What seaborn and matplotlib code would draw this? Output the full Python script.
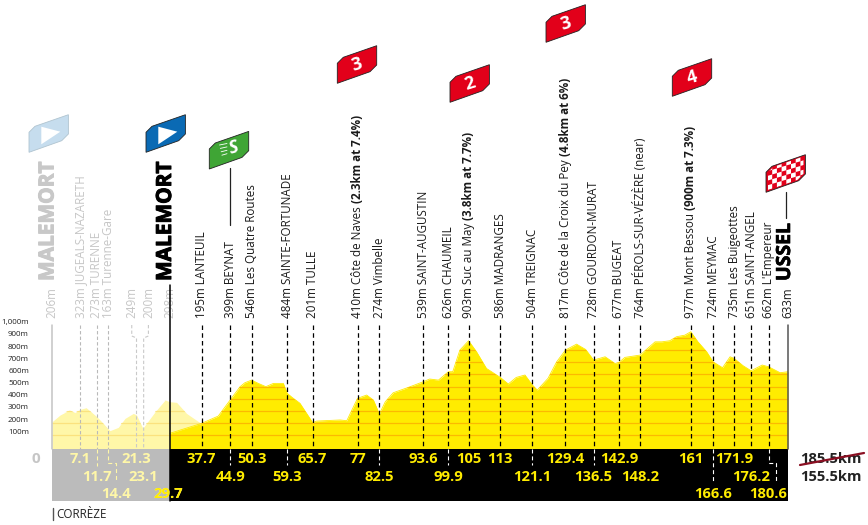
import matplotlib
matplotlib.use('Agg')
import matplotlib.pyplot as plt
import matplotlib.patheffects as pe
from matplotlib.patches import Polygon, Rectangle
from matplotlib.transforms import blended_transform_factory
import numpy as np
import pandas as pd
import seaborn as sns

# profile (km, metres on the drawn scale)
main_km = [29.7, 37.7, 41.9, 44.9, 47.4, 48.6, 50.3, 52, 53.9, 55.8, 58.3, 59.3, 60.5, 62.5, 65.7, 66.7, 72.6, 74.3,
           77, 79.3, 81, 82.5, 84, 86, 89.8, 93.6, 95.2, 97.4, 99.9, 101, 102.8, 105, 107, 109.5, 113, 115, 117, 119.2,
           121.1, 122.3, 125, 127.2, 129.4, 132.2, 134.5, 136.5, 139.4, 141.9, 142.9, 144.4, 148.2, 152, 153.7, 155.7,
           157.4, 159.5, 161, 162.8, 165, 166.6, 169, 170.9, 171.9, 174.2, 176.2, 179, 180.6, 183.5, 185.5]
main_alt = [115, 197, 257, 389, 499, 531, 553, 526, 499, 526, 526, 444, 411, 362, 203, 216, 225, 219,
            403, 430, 389, 274, 375, 449, 493, 540, 562, 553, 622, 622, 800, 877, 786, 649, 575, 521, 575, 595,
            512, 471, 567, 704, 800, 849, 805, 718, 745, 690, 699, 740, 759, 868, 868, 877,
            910, 923, 951, 868, 786, 704, 655, 745, 732, 671, 630, 677, 663, 614, 622]
pale_km = [0, 2, 4.4, 5.8, 7.1, 8.6, 11.3, 12.9, 14.6, 16.7, 18.4, 20.5, 21.3, 22.9, 23.3, 26, 28.5, 29.7, 31.4, 33.9, 37.3]
pale_alt = [210, 265, 307, 285, 312, 326, 252, 197, 137, 164, 238, 279, 266, 156, 175, 293, 389, 375, 370, 279, 203]

grid_alt = [100, 200, 300, 400, 500, 600, 700, 800, 900]
ytick_alt = [100, 200, 300, 400, 500, 600, 700, 800, 900, 1000]
ytick_lab = ['100m', '200m', '300m', '400m', '500m', '600m', '700m', '800m', '900m', '1,000m']

# waypoints of the race proper
wp_km = [37.7, 44.9, 50.3, 59.3, 65.7, 77, 82.5, 93.6, 99.9, 105, 113, 121.1, 129.4, 136.5, 142.9, 148.2, 161, 166.6,
         171.9, 176.2, 180.6]
wp_lab = ['37.7', '44.9', '50.3', '59.3', '65.7', '77', '82.5', '93.6', '99.9', '105', '113', '121.1', '129.4', '136.5',
          '142.9', '148.2', '161', '166.6', '171.9', '176.2', '180.6']
wp_row = [0, 1, 0, 1, 0, 0, 1, 0, 1, 0, 0, 1, 0, 1, 0, 1, 0, 2, 0, 1, 2]
wp_name = ['195m LANTEUIL', '399m BEYNAT', '546m Les Quatre Routes', '484m SAINTE-FORTUNADE', '201m TULLE',
           '410m Côte de Naves', '274m Vimbelle', '539m SAINT-AUGUSTIN', '626m CHAUMEIL', '903m Suc au May',
           '586m MADRANGES', '504m TREIGNAC', '817m Côte de la Croix du Pey', '728m GOURDON-MURAT', '677m BUGEAT',
           '764m PÉROLS-SUR-VÉZÈRE (near)', '977m Mont Bessou', '724m MEYMAC', '735m Les Buigeottes',
           '651m SAINT-ANGEL', "662m L'Empereur"]
climbs = {'410m Côte de Naves': '(2.3km at 7.4%)', '903m Suc au May': '(3.8km at 7.7%)',
          '817m Côte de la Croix du Pey': '(4.8km at 6%)', '977m Mont Bessou': '(900m at 7.3%)'}

# neutralised section, greyed out
old_km = [7.1, 11.3, 14.2, 21.3, 23.1]
old_lab = ['7.1', '11.7', '14.4', '21.3', '23.1']
old_row = [0, 1, 2, 0, 1]
old_name = ['323m JUGEALS-NAZARETH', '273m TURENNE', '163m Turenne-Gare', '249m', '200m']

YEL = '#ffec00'
PALE = '#fff7a8'
ORANGE = '#fcb900'
PALE_OR = '#fbe27e'
GREY_TXT = '#c6c6c6'
BAND_GREY = '#bbbbbb'
row_y = [459, 477, 494]

sns.set_theme(style='white')
plt.rcParams['font.family'] = ['Open Sans', 'DejaVu Sans']

fig = plt.figure(figsize=(8.68, 5.25), dpi=100, facecolor='white')
ax = fig.add_axes([52 / 868, (525 - 447.3) / 525, 736 / 868, 121.5 / 525])
ax.set_xlim(0, 185.5)
ax.set_ylim(0, 1000)
ax.set_axis_off()

deco = fig.add_axes([0, 0, 1, 1])
deco.set_xlim(0, 868)
deco.set_ylim(525, 0)
deco.set_axis_off()
deco.patch.set_alpha(0)
deco.autoscale(False)
# x in km, y in pixels of the picture
trans = blended_transform_factory(ax.transData, deco.transData)

# elevation profile
df_main = pd.DataFrame({'km': main_km, 'alt': main_alt})
df_pale = pd.DataFrame({'km': pale_km, 'alt': pale_alt})
pale_poly = ax.fill_between(df_pale['km'], -15, df_pale['alt'], color=PALE, lw=0, clip_on=False, zorder=1)
pale_grid = ax.hlines(grid_alt, 0, 40, color=PALE_OR, lw=0.9, zorder=1.5)
pale_grid.set_clip_path(pale_poly.get_paths()[0], transform=ax.transData)
main_poly = ax.fill_between(df_main['km'], -15, df_main['alt'], color=YEL, lw=0, clip_on=False, zorder=2)
sns.lineplot(data=df_main, x='km', y='alt', ax=ax, color=YEL, linewidth=0.6, estimator=None, zorder=2)
main_grid = ax.hlines(grid_alt, 29.7, 185.5, color=ORANGE, lw=0.9, zorder=3)
main_grid.set_clip_path(main_poly.get_paths()[0], transform=ax.transData)
ax.set_xlim(0, 185.5)
ax.set_ylim(0, 1000)

for alt, lab in zip(ytick_alt, ytick_lab):
    deco.text(29, 447.3 - alt * 0.1215 - 3, lab, ha='right', va='center', fontsize=5.8, color='#222222')

# km band under the profile
deco.add_patch(Rectangle((52, 449), 117.5, 52, fc=BAND_GREY, ec='none', zorder=1))
deco.add_patch(Rectangle((169.5, 449), 618.5, 52, fc='black', ec='none', zorder=1))
deco.plot([52, 52], [325, 449], color='#c4c4c4', lw=1.1)
deco.plot([788, 788], [325, 449], color='#555555', lw=1.1)
deco.plot([169.8, 169.8], [285, 501], color='black', lw=1.1, zorder=4)
deco.text(36, 459, '0', ha='center', va='center', fontsize=11, fontweight='bold', color=GREY_TXT)

dash = (0, (3.6, 2.6))

# race waypoints
for km, lab, row, name in zip(wp_km, wp_lab, wp_row, wp_name):
    deco.plot([km, km], [325, 449], color='black', lw=0.9, ls=dash, transform=trans, zorder=3)
    t = deco.text(km, 318, name, rotation=90, ha='center', va='bottom', fontsize=8.4, color='#1a1a1a', transform=trans)
    if name in climbs:
        deco.annotate(' ' + climbs[name], xy=(0.5, 1), xycoords=t, rotation=90, ha='center', va='bottom',
                      fontsize=8.4, fontweight='bold', color='#1a1a1a')
    if lab == '180.6':
        xjog = km + 2
        deco.plot([km, km, xjog, xjog], [449, 463, 463, 482], color='white', lw=0.8, ls=dash, transform=trans, zorder=3)
    elif row > 0 and lab not in ('148.2', '176.2'):
        deco.plot([km, km], [449, 449 + 17 * row - 1], color='white', lw=0.8, ls=dash, transform=trans, zorder=3)
    deco.text(km, row_y[row], lab, ha='center', va='center', fontsize=10.6, fontweight='bold', color=YEL,
              transform=trans, zorder=5)

# cancelled part of the route
for km, lab, row, name in zip(old_km, old_lab, old_row, old_name):
    xt = km
    if lab == '249':
        xt = km
    label_x = {'21.3': km - 1.2, '23.1': km + 1.2}.get(lab, km)
    if lab in ('21.3', '23.1'):
        deco.plot([label_x, label_x, km, km], [325, 336, 338, 449], color='#c9c9c9', lw=0.8, ls=(0, (3, 2)),
                  transform=trans, zorder=3)
    else:
        deco.plot([km, km], [325, 449], color='#b9b9b9', lw=0.8, ls=(0, (3, 2)), transform=trans, zorder=3)
    deco.text(label_x, 318, name, rotation=90, ha='center', va='bottom', fontsize=8.4, color=GREY_TXT, transform=trans)
    txt_x = km
    if lab == '14.4':
        txt_x = km + 2
        deco.plot([km, km, txt_x, txt_x], [449, 463, 463, 482], color=PALE, lw=0.8, ls=dash, transform=trans, zorder=3)
    elif lab == '11.7':
        deco.plot([km, km], [449, 466], color=PALE, lw=0.8, ls=dash, transform=trans, zorder=3)
    deco.text(txt_x, row_y[row], lab, ha='center', va='center', fontsize=10.6, fontweight='bold', color=PALE,
              transform=trans, zorder=5)

deco.text(0, 318, '206m', rotation=90, ha='center', va='bottom', fontsize=8.4, color=GREY_TXT, transform=trans)
deco.text(29.7, 318, '298m', rotation=90, ha='center', va='bottom', fontsize=8.4, color=GREY_TXT, transform=trans)
deco.text(185.5, 318, '633m', rotation=90, ha='center', va='bottom', fontsize=8.4, color='#1a1a1a', transform=trans)

# 29.7 sits across the grey and black parts of the band
for col, clip in ((PALE, (52, 449, 117.5, 52)), (YEL, (169.5, 449, 100, 52))):
    t = deco.text(29.2, row_y[2], '29.7', ha='center', va='center', fontsize=10.6, fontweight='bold', color=col,
                  transform=trans, zorder=5)
    t.set_clip_path(Rectangle(clip[:2], clip[2], clip[3], transform=deco.transData))

# start and finish names
thick = [pe.withStroke(linewidth=0.7)]
deco.text(48, 281, 'MALEMORT', rotation=90, ha='center', va='bottom', fontsize=15, fontweight='bold', color='#c8c8c8',
          path_effects=[pe.withStroke(linewidth=0.7, foreground='#c8c8c8')])
deco.text(165.5, 281, 'MALEMORT', rotation=90, ha='center', va='bottom', fontsize=15, fontweight='bold', color='black',
          path_effects=[pe.withStroke(linewidth=0.7, foreground='black')])
deco.text(785, 281, 'USSEL', rotation=90, ha='center', va='bottom', fontsize=14, fontweight='bold', color='black',
          path_effects=[pe.withStroke(linewidth=0.5, foreground='black')])
deco.plot([786, 786], [192, 218], color='#222222', lw=0.9)
deco.plot([230, 230], [168, 225], color='#222222', lw=0.9)

# flags
shape = np.array([(0, 0), (0, -20), (6, -26), (39.4, -37.6), (39.4, -18.3), (32.7, -11.6)])


def flag(x, y, fc, ec='#222222', label=None):
    p = Polygon(shape + (x, y), closed=True, fc=fc, ec=ec, lw=0.6, zorder=6)
    deco.add_patch(p)
    if label:
        deco.text(x + 19.6, y - 18.3, label, rotation=17, ha='center', va='center', fontsize=13, fontweight='bold',
                  color='white', zorder=7)
    return p


flag(337.3, 83.3, '#e2001a', label='3')
flag(450, 102.3, '#e2001a', label='2')
flag(546, 42.3, '#e2001a', label='3')
flag(672.3, 96.3, '#e2001a', label='4')

tri = np.array([(12.3, -8), (12.3, -25.6), (31.3, -20.6)])
flag(29, 152.3, '#c6ddee', ec='#b0c4d0')
deco.add_patch(Polygon(tri + (29, 152.3), fc='white', ec='none', zorder=7))
flag(146, 152.3, '#0a6ab4')
deco.add_patch(Polygon(tri + (146, 152.3), fc='white', ec='none', zorder=7))

flag(209.3, 169, '#3fa535')
deco.text(233.5, 148, 'S', rotation=17, style='italic', ha='center', va='center', fontsize=13, fontweight='bold',
          color='white', zorder=7)
for i in range(4):
    deco.plot([219.5 + i * 0.8, 227], [147 + i * 3.4 - 2, 145.5 + i * 3.4 - 2], color='white', lw=0.6, zorder=7)

finish = flag(766, 192.3, '#e2001a')
for i in range(8):
    for j in range(5):
        if (i + j) % 2 == 0:
            x0 = 767.5 + i * 4.7
            y0 = 190 - i * 1.42 - j * 4.7
            cell = Polygon([(x0, y0), (x0 + 4.7, y0 - 1.42), (x0 + 4.7, y0 - 6.1), (x0, y0 - 4.7)], fc='white', ec='none',
                           zorder=7)
            deco.add_patch(cell)
            cell.set_clip_path(Polygon(shape * 0.9 + (768, 190.3), transform=deco.transData))

# distances and department
deco.text(831, 459, '185.5km', ha='center', va='center', fontsize=10.6, fontweight='bold', color='#222222')
deco.plot([800, 864], [465, 453], color='#8a0f22', lw=1.6, zorder=5)
deco.text(831, 477, '155.5km', ha='center', va='center', fontsize=10.6, fontweight='bold', color='#222222')
deco.plot([52.5, 52.5], [508, 520], color='#555555', lw=1)
deco.text(56, 514, 'CORRÈZE', ha='left', va='center', fontsize=8.4, color='#222222')

fig.savefig('out.png', dpi=100)
